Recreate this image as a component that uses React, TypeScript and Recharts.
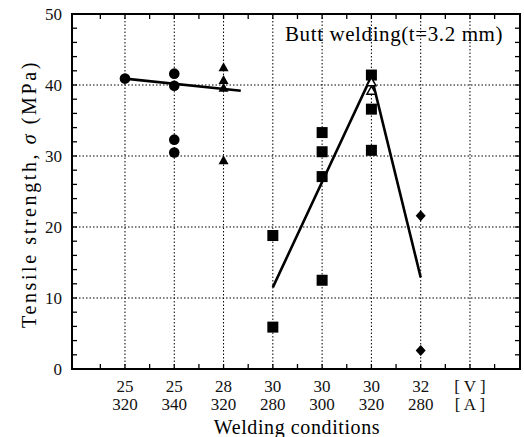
import React from "react";
import {
  ComposedChart,
  CartesianGrid,
  XAxis,
  YAxis,
  Scatter,
  Line,
  ReferenceArea,
} from "recharts";

// welding conditions, voltage over current
const volts = ["25", "25", "28", "30", "30", "30", "32", "[ V ]"];
const amps = ["320", "340", "320", "280", "300", "320", "280", "[ A ]"];

// x = index of the welding condition, y = tensile strength (MPa)
const circles = [
  { x: 0, y: 40.9 },
  { x: 1, y: 41.6 },
  { x: 1, y: 39.9 },
  { x: 1, y: 32.3 },
  { x: 1, y: 30.5 },
];
const triangles = [
  { x: 2, y: 42.5 },
  { x: 2, y: 40.7 },
  { x: 2, y: 39.6 },
  { x: 2, y: 29.4 },
];
const squares = [
  { x: 3, y: 18.8 },
  { x: 3, y: 5.9 },
  { x: 4, y: 33.3 },
  { x: 4, y: 30.6 },
  { x: 4, y: 27.1 },
  { x: 4, y: 12.5 },
  { x: 5, y: 41.4 },
  { x: 5, y: 36.6 },
  { x: 5, y: 30.8 },
];
const openTriangles = [
  { x: 5, y: 40.4 },
  { x: 5, y: 39.2 },
];
const diamonds = [
  { x: 6, y: 21.6 },
  { x: 6, y: 2.6 },
];
const fitLine = [
  { x: 0, y: 40.9 },
  { x: 2.35, y: 39.2 },
];
const peakLine = [
  { x: 3, y: 11.5 },
  { x: 5, y: 41.2 },
  { x: 6, y: 12.9 },
];

const xTicks = [-0.5, 0, 0.5, 1, 1.5, 2, 2.5, 3, 3.5, 4, 4.5, 5, 5.5, 6, 6.5, 7, 7.5];
const yTicks = [0, 2, 4, 6, 8, 10, 12, 14, 16, 18, 20, 22, 24, 26, 28, 30, 32, 34, 36, 38, 40, 42, 44, 46, 48, 50];
const yLabels = [0, 10, 20, 30, 40, 50];
const xDomain = [-1.075, 8.015];

const W = 524;
const H = 437;
const TOP = 14;
const RIGHT = 4;
const Y_AXIS_W = 72;
const X_AXIS_H = 68;
const PLOT_W = W - RIGHT - Y_AXIS_W;
const PLOT_H = H - TOP - X_AXIS_H;
const TICK = 5;
const SERIF = "'Liberation Serif', 'Times New Roman', serif";

function XTick(props: any) {
  const { x, y, payload } = props;
  const v = payload.value;
  const i = Math.round(v);
  const isCat = Math.abs(v - i) < 1e-6 && i >= 0 && i < volts.length;
  return (
    <g>
      <line x1={x} y1={y} x2={x} y2={y - TICK} stroke="#000" strokeWidth={1.3} />
      <line x1={x} y1={y - PLOT_H} x2={x} y2={y - PLOT_H + TICK} stroke="#000" strokeWidth={1.3} />
      {isCat && (
        <text textAnchor="middle" fontFamily={SERIF} fontSize={17} fill="#111">
          <tspan x={x} y={y + 23}>{volts[i]}</tspan>
          <tspan x={x} y={y + 41}>{amps[i]}</tspan>
        </text>
      )}
    </g>
  );
}

function YTick(props: any) {
  const { x, y, payload } = props;
  const v = payload.value;
  return (
    <g>
      <line x1={x} y1={y} x2={x + TICK} y2={y} stroke="#000" strokeWidth={1.3} />
      <line x1={x + PLOT_W} y1={y} x2={x + PLOT_W - TICK} y2={y} stroke="#000" strokeWidth={1.3} />
      {yLabels.includes(v) && (
        <text x={x - 10} y={y + 6} textAnchor="end" fontFamily={SERIF} fontSize={17} fill="#111">
          {v}
        </text>
      )}
    </g>
  );
}

const Circle = (p: any) => <circle cx={p.cx} cy={p.cy} r={5.3} fill="#000" />;
const Square = (p: any) => <rect x={p.cx - 5.5} y={p.cy - 5.5} width={11} height={11} fill="#000" />;
const Triangle = (p: any) => (
  <path d={`M${p.cx},${p.cy - 5} L${p.cx + 5},${p.cy + 4} L${p.cx - 5},${p.cy + 4} Z`} fill="#000" />
);
const OpenTriangle = (p: any) => (
  <path
    d={`M${p.cx},${p.cy - 4.5} L${p.cx + 4.5},${p.cy + 3.5} L${p.cx - 4.5},${p.cy + 3.5} Z`}
    fill="#fff"
    stroke="#000"
    strokeWidth={1.5}
  />
);
const Diamond = (p: any) => (
  <path d={`M${p.cx},${p.cy - 5.5} L${p.cx + 5},${p.cy} L${p.cx},${p.cy + 5.5} L${p.cx - 5},${p.cy} Z`} fill="#000" />
);

export default function App() {
  return (
    <div style={{ position: "absolute", left: 0, top: 0, width: W, height: H, background: "#fff" }}>
      <ComposedChart width={W} height={H} margin={{ top: TOP, right: RIGHT, left: 0, bottom: 0 }}>
        <CartesianGrid
          horizontalValues={[10, 20, 30, 40]}
          verticalValues={[0, 1, 2, 3, 4, 5, 6, 7]}
          stroke="#000"
          strokeWidth={1}
          strokeDasharray="1.5 2"
        />
        <XAxis
          type="number"
          dataKey="x"
          domain={xDomain}
          ticks={xTicks}
          interval={0}
          tickSize={0}
          tickMargin={0}
          axisLine={false}
          tickLine={false}
          height={X_AXIS_H}
          tick={<XTick />}
        />
        <YAxis
          type="number"
          dataKey="y"
          domain={[0, 50]}
          ticks={yTicks}
          interval={0}
          tickSize={0}
          tickMargin={0}
          axisLine={false}
          tickLine={false}
          width={Y_AXIS_W}
          tick={<YTick />}
        />
        <ReferenceArea
          x1={xDomain[0]}
          x2={xDomain[1]}
          y1={0}
          y2={50}
          fill="none"
          fillOpacity={0}
          stroke="#000"
          strokeWidth={2}
        />
        <Line data={fitLine} dataKey="y" type="linear" stroke="#000" strokeWidth={2.6} dot={false} isAnimationActive={false} />
        <Line data={peakLine} dataKey="y" type="linear" stroke="#000" strokeWidth={2.6} dot={false} isAnimationActive={false} />
        <Scatter data={circles} shape={Circle} isAnimationActive={false} />
        <Scatter data={triangles} shape={Triangle} isAnimationActive={false} />
        <Scatter data={squares} shape={Square} isAnimationActive={false} />
        <Scatter data={diamonds} shape={Diamond} isAnimationActive={false} />
        <Scatter data={openTriangles} shape={OpenTriangle} isAnimationActive={false} />
      </ComposedChart>
      <svg
        width={W}
        height={H}
        style={{ position: "absolute", left: 0, top: 0, pointerEvents: "none" }}
      >
        <text x={285} y={41} fontFamily={SERIF} fontSize={21} letterSpacing={0.6} fill="#000">
          Butt welding(t=3.2 mm)
        </text>
        <text
          x={297}
          y={434}
          textAnchor="middle"
          fontFamily={SERIF}
          fontSize={20}
          letterSpacing={0.6}
          fill="#000"
        >
          Welding conditions
        </text>
        <text
          transform="translate(36,194) rotate(-90)"
          textAnchor="middle"
          fontFamily={SERIF}
          fontSize={20}
          letterSpacing={2.6}
          fill="#000"
        >
          Tensile strength, <tspan fontStyle="italic">σ</tspan> (MPa)
        </text>
      </svg>
    </div>
  );
}
